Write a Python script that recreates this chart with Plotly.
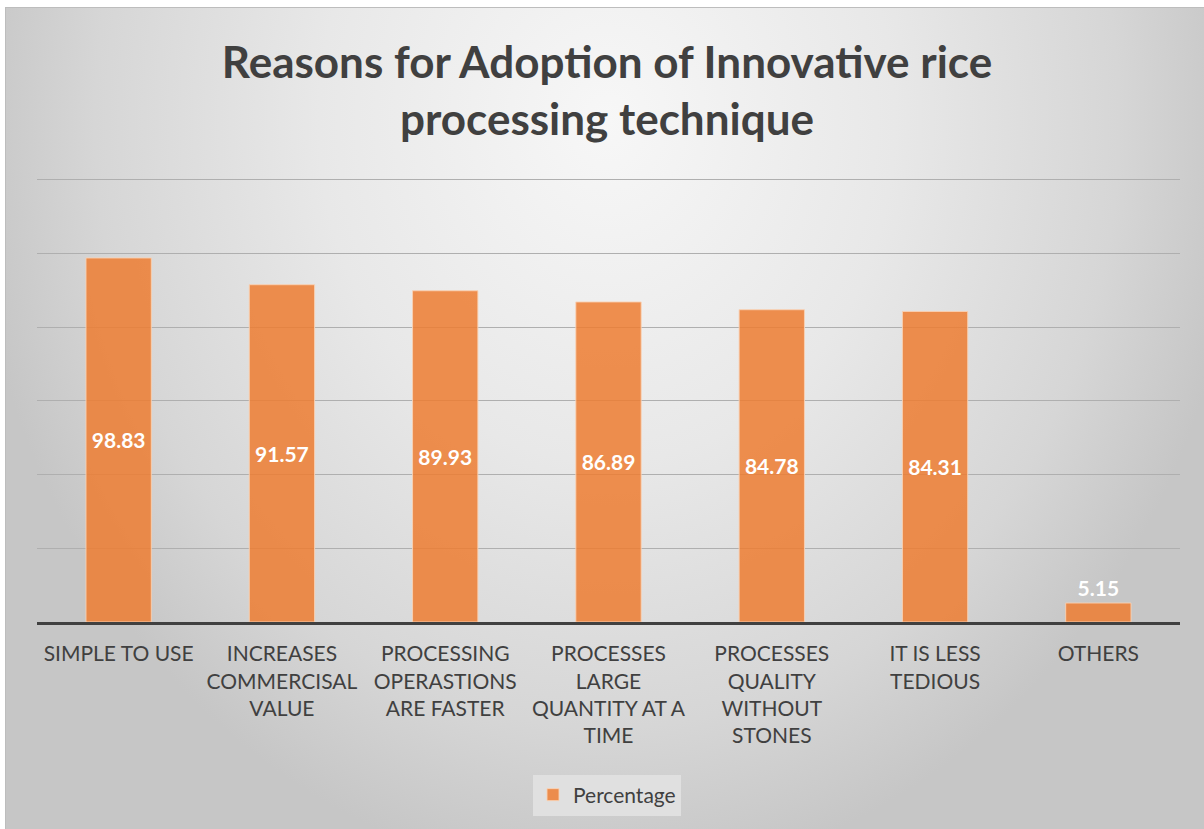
import plotly.graph_objects as go

# ---- data -------------------------------------------------------------
categories = [
    "Simple to use",
    "Increases commercisal value",
    "Processing operastions are faster",
    "Processes large quantity at a time",
    "Processes quality without stones",
    "It is less tedious",
    "Others",
]
tick_labels = [
    "SIMPLE TO USE",
    "INCREASES<br>COMMERCISAL<br>VALUE",
    "PROCESSING<br>OPERASTIONS<br>ARE FASTER",
    "PROCESSES<br>LARGE<br>QUANTITY AT A<br>TIME",
    "PROCESSES<br>QUALITY<br>WITHOUT<br>STONES",
    "IT IS LESS<br>TEDIOUS",
    "OTHERS",
]
percentage = [98.83, 91.57, 89.93, 86.89, 84.78, 84.31, 5.15]
label_positions = ["inside"] * 6 + ["outside"]

# value axis: 0..120 in steps of 20, with a little headroom so the top gridline shows
Y_MAX, Y_TOP = 120, 121

# ---- page geometry (pixels) -----------------------------------------------
W, H = 1204, 829
PANEL_LEFT, PANEL_TOP = 6, 8            # chart panel sits inside a thin white strip
PLOT_LEFT, PLOT_RIGHT = 37, 1180
PLOT_BOTTOM = 622
PX_PER_UNIT = (622 - 180) / Y_MAX
PLOT_TOP = PLOT_BOTTOM - Y_TOP * PX_PER_UNIT

# radial shading of the panel: bounding box of the gradient ellipse
GLOW_CX, GLOW_CY, GLOW_RX, GLOW_RY = 607, 120, 640, 760

TEXT = "#404040"
FONT = "Lato"

fig = go.Figure()

# panel background with a soft radial gradient
fig.add_trace(go.Scatter(
    x=[GLOW_CX - GLOW_RX, GLOW_CX + GLOW_RX, GLOW_CX + GLOW_RX, GLOW_CX - GLOW_RX, GLOW_CX - GLOW_RX],
    y=[GLOW_CY - GLOW_RY, GLOW_CY - GLOW_RY, GLOW_CY + GLOW_RY, GLOW_CY + GLOW_RY, GLOW_CY - GLOW_RY],
    mode="none",
    fill="toself",
    fillgradient=dict(
        type="radial",
        colorscale=[[0, "#f7f7f7"], [0.45, "#e8e8e8"], [0.8, "#d6d6d6"], [1, "#c6c6c6"]],
    ),
    hoverinfo="skip",
    showlegend=False,
    xaxis="x", yaxis="y",
))

# the bars
fig.add_trace(go.Bar(
    x=categories,
    y=percentage,
    name="Percentage",
    marker=dict(
        color="rgba(237,125,49,0.85)",
        line=dict(color="rgba(250,210,180,0.9)", width=1),
    ),
    text=[f"{v:.2f}" for v in percentage],
    textposition=label_positions,
    insidetextanchor="middle",
    textangle=0,
    constraintext="none",
    cliponaxis=False,
    textfont=dict(family=FONT, size=21, color="white", weight=700),
    outsidetextfont=dict(family=FONT, size=21, color="white", weight=700),
    hoverinfo="x+y",
    xaxis="x2", yaxis="y2",
))

fig.update_layout(
    template="none",
    width=W, height=H,
    margin=dict(l=0, r=0, t=0, b=0),
    paper_bgcolor="white",
    plot_bgcolor="rgba(0,0,0,0)",
    font=dict(family=FONT, color=TEXT),
    bargap=0.6,
    title=dict(
        text="Reasons for Adoption of Innovative rice<br>processing technique",
        x=607 / W, xanchor="center",
        y=1 - 78 / H, yanchor="middle",
        font=dict(family=FONT, size=44, color=TEXT, weight=700),
    ),
    xaxis=dict(
        domain=[PANEL_LEFT / W, 1], range=[PANEL_LEFT, W],
        showgrid=False, zeroline=False, showticklabels=False, ticks="",
        showline=True, linecolor="#bdbdbd", linewidth=1, side="top",
        fixedrange=True, automargin=False,
    ),
    yaxis=dict(
        domain=[0, 1 - PANEL_TOP / H], range=[H, PANEL_TOP],
        showgrid=False, zeroline=False, showticklabels=False, ticks="",
        showline=True, linecolor="#bdbdbd", linewidth=1,
        fixedrange=True, automargin=False,
    ),
    xaxis2=dict(
        domain=[PLOT_LEFT / W, PLOT_RIGHT / W], anchor="y2",
        type="category",
        tickmode="array", tickvals=categories, ticktext=tick_labels,
        tickfont=dict(family=FONT, size=21, color=TEXT),
        ticks="", ticklabelstandoff=11,
        showgrid=False, zeroline=False,
        showline=True, linecolor="#404040", linewidth=3,
        fixedrange=True, automargin=False,
    ),
    yaxis2=dict(
        domain=[1 - PLOT_BOTTOM / H, 1 - PLOT_TOP / H], anchor="x2",
        range=[0, Y_TOP], dtick=20, tick0=0,
        showgrid=True, gridcolor="#afafaf", gridwidth=1,
        showticklabels=False, ticks="", zeroline=False, showline=False,
        fixedrange=True, automargin=False,
    ),
    showlegend=True,
    legend=dict(
        orientation="h",
        x=607 / W, xanchor="center",
        y=1 - 795 / H, yanchor="middle",
        bgcolor="#e0e0e0",
        font=dict(family=FONT, size=21, color=TEXT),
        borderwidth=0,
        itemwidth=30,
    ),
)

fig.write_html("out.html")
